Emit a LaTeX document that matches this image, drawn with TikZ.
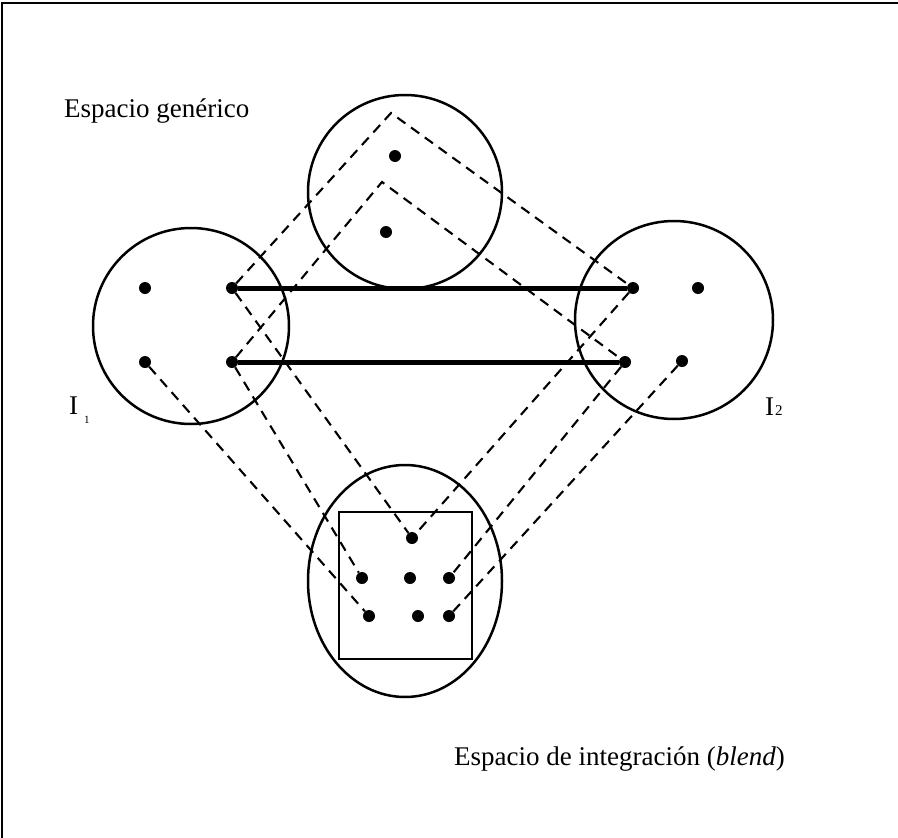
\documentclass[tikz,border=0pt]{standalone}
\usepackage{fontspec}
\setmainfont{Liberation Serif}
\usetikzlibrary{shapes.geometric}
\begin{document}
\begin{tikzpicture}[x=1pt,y=-1pt,
  dot/.style={circle,fill=black,inner sep=0pt,minimum size=12pt},
  space/.style={circle,draw=black,line width=2.5pt,inner sep=0pt},
  dline/.style={dash pattern=on 10pt off 7pt,line width=2.1pt},
  bond/.style={line width=5pt},
  lab/.style={anchor=base west,inner sep=0pt,font=\fontsize{27}{32}\selectfont}]
\useasboundingbox (0,0) rectangle (898,838);
\draw[line width=1.5pt] (2,838) -- (2,3) -- (898,3);

% spaces
\node[space,minimum size=194pt] (gen) at (405,192) {};
\node[space,minimum size=196pt] (in1) at (191,326) {};
\node[space,minimum size=198pt] (in2) at (674,320) {};
\node[space,ellipse,minimum width=194pt,minimum height=232pt] (blend) at (405,581) {};
\node[draw,line width=2.5pt,minimum width=133pt,minimum height=147pt,inner sep=0pt] (frame) at (405.5,585.5) {};

% dots
\node[dot] (g1) at (395,156) {};
\node[dot] (g2) at (386,232) {};
\node[dot] (i1a) at (145,288) {};
\node[dot] (i1b) at (232,288) {};
\node[dot] (i1c) at (145,362) {};
\node[dot] (i1d) at (232,362) {};
\node[dot] (i2a) at (633,288) {};
\node[dot] (i2b) at (698,288) {};
\node[dot] (i2c) at (625,362) {};
\node[dot] (i2d) at (682,361) {};
\node[dot] (b0) at (412,538) {};
\node[dot] (b1) at (362,578) {};
\node[dot] (b2) at (410,578) {};
\node[dot] (b3) at (449,578) {};
\node[dot] (b4) at (369,616) {};
\node[dot] (b5) at (418,616) {};
\node[dot] (b6) at (449,616) {};

% generic space projections
\coordinate (apexA) at (391,113);
\coordinate (apexB) at (382,182);
\draw[dline] (i1b) -- (apexA) -- (i2a);
\draw[dline] (i1d) -- (apexB) -- (i2c);

% cross-space mappings
\draw[bond] (i1b) -- (i2a);
\draw[bond] (i1d) -- (i2c);

% projections to blend
\draw[dline] (i1b) -- (b0);
\draw[dline] (i1d) -- (b1);
\draw[dline] (i1c) -- (b4);
\draw[dline] (i2a) -- (b0);
\draw[dline] (i2c) -- (b3);
\draw[dline] (i2d) -- (b6);

% labels
\node[lab] (tgen) at (64,117) {Espacio genérico};
\node[lab] (tblend) at (454,765) {Espacio de integración (\textit{blend})};
\node[lab] (ti1) at (69,414) {I};
\node[anchor=base west,inner sep=0pt,font=\fontsize{11}{12}\selectfont] (ti1s) at (84,423) {1};
\node[lab] (ti2) at (765,415) {I};
\node[anchor=base west,inner sep=0pt,font=\fontsize{15}{17}\selectfont] (ti2s) at (775,415) {2};
\end{tikzpicture}
\end{document}
